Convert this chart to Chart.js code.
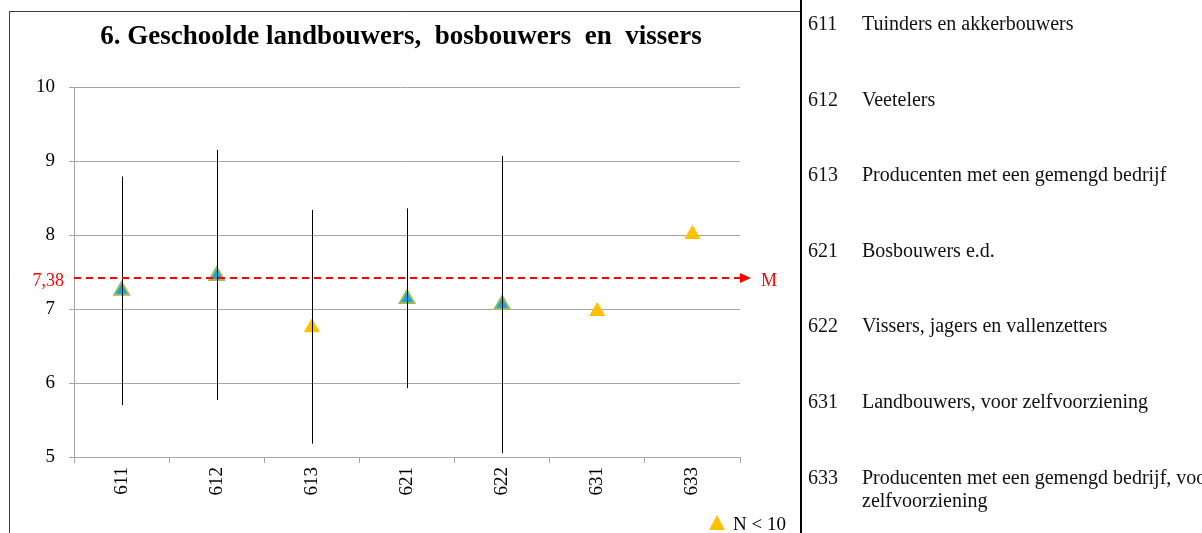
<!DOCTYPE html>
<html>
<head>
<meta charset="utf-8">
<script src="https://cdn.jsdelivr.net/npm/chart.js@4"></script>
<style>
  body { margin: 0; background: #fff; width: 1202px; height: 533px; overflow: hidden; position: relative; font-family: "Liberation Serif", "Times New Roman", serif; }
  #chartBox { position: absolute; left: 0; top: 0; width: 802px; height: 533px; }
  #legendTable { position: absolute; left: 800px; top: 0; width: 402px; height: 533px; overflow: hidden; }
  .row { position: absolute; left: 8px; font-size: 20px; line-height: 23px; color: #111; white-space: nowrap; }
  .code { position: absolute; left: 0; }
  .desc { position: absolute; left: 54px; }
</style>
</head>
<body>
<div id="chartBox"><canvas id="gradeChart"></canvas></div>
<div id="legendTable"></div>
<script>
const labels = ['611', '612', '613', '621', '622', '631', '633'];
const means = [7.25, 7.45, 6.75, 7.14, 7.06, 6.97, 8.01];
const lower = [5.70, 5.77, 5.18, 5.93, 5.05, null, null];
const upper = [8.79, 9.15, 8.34, 8.36, 9.07, null, null];
const smallN = [false, false, true, false, false, true, true];
const meanValue = 7.42;
const meanLabel = '7,38';
const descriptions = [
    'Tuinders en akkerbouwers',
    'Veetelers',
    'Producenten met een gemengd bedrijf',
    'Bosbouwers e.d.',
    'Vissers, jagers en vallenzetters',
    'Landbouwers, voor zelfvoorziening',
    'Producenten met een gemengd bedrijf, voor<br>zelfvoorziening'
];

const serif = '"Liberation Serif", "Times New Roman", serif';

// tabel rechts
const table = document.getElementById('legendTable');
descriptions.forEach((text, i) => {
    const row = document.createElement('div');
    row.className = 'row';
    row.style.top = (12 + i * 75.6) + 'px';
    row.innerHTML = `<span class="code">${labels[i]}</span><span class="desc">${text}</span>`;
    table.appendChild(row);
});

const extras = {
    id: 'extras',
    afterDatasetsDraw(chart) {
        const ctx = chart.ctx;
        const x = chart.scales.x;
        const y = chart.scales.y;
        const area = chart.chartArea;
        ctx.save();

        // foutbalken
        ctx.strokeStyle = '#000';
        ctx.lineWidth = 1;
        labels.forEach((lab, i) => {
            if (lower[i] === null) return;
            const px = Math.round(x.getPixelForValue(i)) + 0.5;
            ctx.beginPath();
            ctx.moveTo(px, y.getPixelForValue(upper[i]));
            ctx.lineTo(px, y.getPixelForValue(lower[i]));
            ctx.stroke();
        });

        // gemiddelde
        const my = y.getPixelForValue(meanValue);
        ctx.strokeStyle = '#FF0000';
        ctx.lineWidth = 2;
        ctx.setLineDash([7, 5]);
        ctx.beginPath();
        ctx.moveTo(area.left, my);
        ctx.lineTo(area.right, my);
        ctx.stroke();
        ctx.setLineDash([]);
        ctx.fillStyle = '#FF0000';
        ctx.beginPath();
        ctx.moveTo(area.right, my - 5);
        ctx.lineTo(area.right + 11, my);
        ctx.lineTo(area.right, my + 5);
        ctx.closePath();
        ctx.fill();
        ctx.font = '18px ' + serif;
        ctx.textBaseline = 'middle';
        ctx.textAlign = 'left';
        ctx.fillText('M', area.right + 21, my + 3);
        ctx.textAlign = 'right';
        ctx.fillText(meanLabel, 64, my + 3);

        // titel
        ctx.fillStyle = '#000';
        ctx.font = 'bold 27px ' + serif;
        ctx.textAlign = 'center';
        ctx.fillText('6. Geschoolde landbouwers,  bosbouwers  en  vissers', 401, 37);

        // legenda
        ctx.fillStyle = '#FFC000';
        ctx.beginPath();
        ctx.moveTo(717, 515);
        ctx.lineTo(725, 530);
        ctx.lineTo(709, 530);
        ctx.closePath();
        ctx.fill();
        ctx.fillStyle = '#000';
        ctx.font = '19px ' + serif;
        ctx.textAlign = 'left';
        ctx.fillText('N < 10', 733, 525);

        // kader
        ctx.strokeStyle = '#3a3a3a';
        ctx.lineWidth = 1;
        ctx.beginPath();
        ctx.moveTo(9.5, 533);
        ctx.lineTo(9.5, 11.5);
        ctx.lineTo(802, 11.5);
        ctx.stroke();
        ctx.strokeStyle = '#000';
        ctx.lineWidth = 2;
        ctx.beginPath();
        ctx.moveTo(801, 0);
        ctx.lineTo(801, 533);
        ctx.stroke();
        ctx.restore();
    }
};

const ctx = document.getElementById('gradeChart').getContext('2d');
new Chart(ctx, {
    type: 'line',
    data: {
        labels: labels,
        datasets: [{
            label: 'N >= 10',
            data: means.map((v, i) => smallN[i] ? null : v),
            showLine: false,
            pointStyle: 'triangle',
            pointRadius: 8.5,
            pointBackgroundColor: '#14A6DD',
            pointBorderColor: '#9BBB59',
            pointBorderWidth: 2
        }, {
            label: 'N < 10',
            data: means.map((v, i) => smallN[i] ? v : null),
            showLine: false,
            pointStyle: 'triangle',
            pointRadius: 8.5,
            pointBackgroundColor: '#FFC000',
            pointBorderColor: '#FFC000',
            pointBorderWidth: 1
        }]
    },
    options: {
        responsive: true,
        maintainAspectRatio: false,
        animation: false,
        layout: { padding: { left: 9, right: 62, top: 87, bottom: 0 } },
        plugins: {
            legend: { display: false },
            title: { display: false },
            tooltip: { enabled: false }
        },
        scales: {
            x: {
                type: 'category',
                offset: true,
                grid: { drawOnChartArea: false, drawTicks: true, tickLength: 6, offset: true, color: '#A6A6A6' },
                border: { color: '#A6A6A6' },
                ticks: { minRotation: 90, maxRotation: 90, padding: 4, color: '#000', font: { family: serif, size: 19 } },
                afterFit: (s) => { s.height = 76; }
            },
            y: {
                min: 5,
                max: 10,
                grid: { color: '#A6A6A6', tickLength: 5 },
                border: { color: '#A6A6A6' },
                ticks: { stepSize: 1, padding: 14, color: '#000', font: { family: serif, size: 19 } },
                afterFit: (s) => { s.width = 65; }
            }
        }
    },
    plugins: [extras]
});
</script>
</body>
</html>
